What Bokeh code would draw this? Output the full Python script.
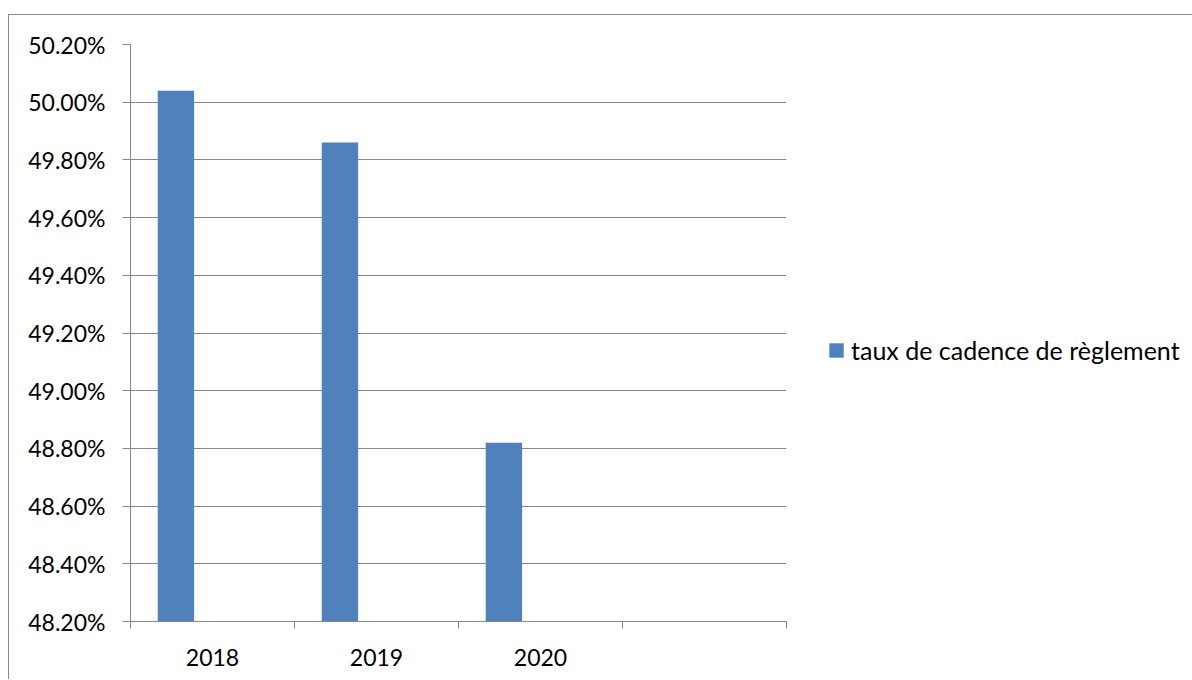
from bokeh.plotting import figure
from bokeh.models import FixedTicker, PrintfTickFormatter, Legend, LegendItem
from bokeh.embed import file_html
from bokeh.resources import INLINE

# ---- data ----
years = ["2018", "2019", "2020"]
n_slots = 4  # category slots on the axis (last one empty)
values = [50.04, 49.86, 48.82]
y_ticks = [48.2, 48.4, 48.6, 48.8, 49.0, 49.2, 49.4, 49.6, 49.8, 50.0, 50.2]
series_name = "taux de cadence de règlement"

# ---- style ----
FONT = "Lato"
GRID = "#878787"
BAR = "#4F81BD"
BAR_OFFSET = 0.277
BAR_WIDTH = 0.222

p = figure(frame_width=656, frame_height=577,
           output_backend="svg", toolbar_location=None,
           x_range=(0, n_slots), y_range=(y_ticks[0], y_ticks[-1]),
           min_border_left=121, min_border_right=40,
           min_border_top=29, min_border_bottom=58)
# outer chart border (only its top and left edges are inside the picture)
p.styles = {"border-top": "1px solid #8a8a8a", "border-left": "1px solid #8a8a8a",
            "margin-left": "8px", "margin-top": "14px"}
p.outline_line_color = None
p.background_fill_color = "white"
p.border_fill_color = "white"

xs = [i + BAR_OFFSET for i in range(len(years))]
r = p.vbar(x=xs, top=values, bottom=y_ticks[0], width=BAR_WIDTH,
           fill_color=BAR, line_color=None)

# y axis
yt = FixedTicker(ticks=y_ticks, minor_ticks=[])
p.yaxis.ticker = yt
p.yaxis.formatter = PrintfTickFormatter(format="%.2f%%")
p.yaxis.major_tick_out = 8
p.yaxis.major_tick_in = 0
p.yaxis.minor_tick_line_color = None
p.yaxis.major_tick_line_color = GRID
p.yaxis.axis_line_color = GRID
p.yaxis.major_label_standoff = 17
p.yaxis.major_label_text_font = FONT
p.yaxis.major_label_text_font_size = "23px"
p.yaxis.major_label_text_color = "black"

# x axis: labels at slot centres, ticks at slot boundaries
xt = FixedTicker(ticks=[i + 0.5 for i in range(len(years))],
                 minor_ticks=list(range(n_slots + 1)))
p.xaxis.ticker = xt
p.xaxis.major_label_overrides = {i + 0.5: y for i, y in enumerate(years)}
p.xaxis.major_tick_line_color = None
p.xaxis.major_tick_out = 0
p.xaxis.major_tick_in = 0
p.xaxis.minor_tick_out = 7
p.xaxis.minor_tick_in = 0
p.xaxis.minor_tick_line_color = GRID
p.xaxis.axis_line_color = GRID
p.xaxis.major_label_standoff = 20
p.xaxis.major_label_text_font = FONT
p.xaxis.major_label_text_font_size = "23px"
p.xaxis.major_label_text_color = "black"

p.xgrid.visible = False
p.ygrid.ticker = yt
p.ygrid.grid_line_color = GRID

legend = Legend(items=[LegendItem(label=series_name, renderers=[r])],
                location=(41, 256), padding=0, margin=0, spacing=0,
                glyph_width=18, glyph_height=18, label_standoff=6,
                border_line_color=None, background_fill_alpha=0,
                label_text_font=FONT, label_text_font_size="25px",
                label_text_color="black")
p.add_layout(legend, "right")

open("out.html", "w").write(file_html(p, INLINE))
